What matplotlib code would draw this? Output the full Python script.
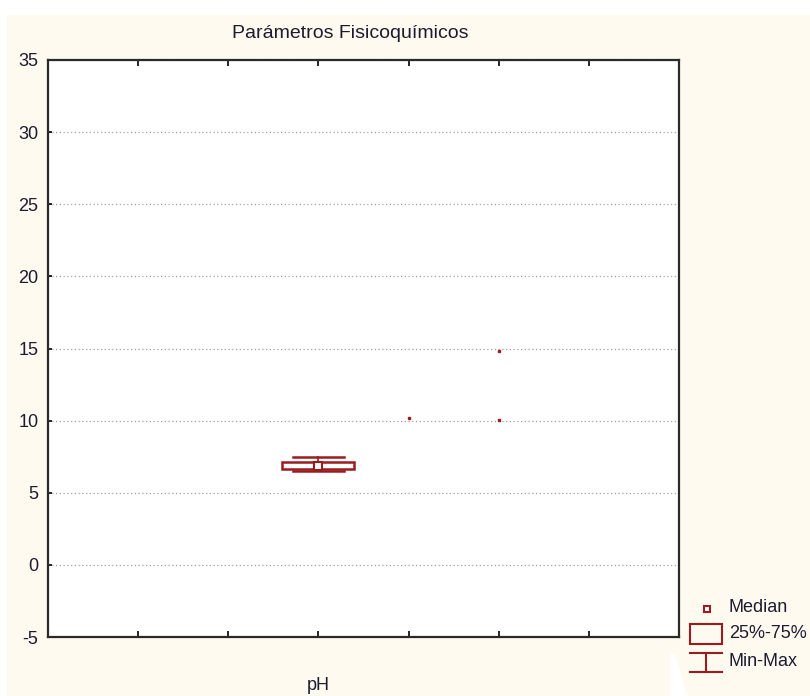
import matplotlib.pyplot as plt
from matplotlib.patches import Rectangle, Polygon
from matplotlib.lines import Line2D

plt.rcParams['font.family'] = ['Liberation Sans Narrow', 'Liberation Sans', 'DejaVu Sans']
plt.rcParams['axes.unicode_minus'] = False

TITLE = "Parámetros Fisicoquímicos"

# columnas del gráfico (solo la tercera lleva rótulo)
POSITIONS = [1, 2, 3, 4, 5, 6]
XLABELS = ["", "", "pH", "", "", ""]
YTICKS = [-5, 0, 5, 10, 15, 20, 25, 30, 35]

# pH: mínimo, cuartiles, mediana, máximo
PH_POS = 3
PH_MIN = 6.5
PH_Q1 = 6.63
PH_MED = 6.85
PH_Q3 = 7.15
PH_MAX = 7.48

# lecturas sueltas en las otras columnas
DOT_X = [4, 5, 5]
DOT_Y = [10.15, 14.85, 10.05]

RED = "#9b1c1f"
TXT = "#1c1c30"
BG = "#fffaf0"

W, H = 810, 696
fig = plt.figure(figsize=(W / 100, H / 100), dpi=100)
fig.patch.set_facecolor("white")

# fondo y leyenda en coordenadas de píxel
bg = fig.add_axes([0, 0, 1, 1], zorder=-1)
bg.set_xlim(0, W)
bg.set_ylim(H, 0)
bg.axis("off")
bg.add_patch(Rectangle((7, 15), W - 7, H - 15, facecolor=BG, edgecolor="none"))
bg.add_patch(Polygon([(670, 653), (675, 653), (687, H), (670, H)], closed=True,
                     facecolor="white", edgecolor="none"))

ax = fig.add_axes([48 / W, 1 - 637 / H, (679 - 48) / W, (637 - 60) / H])
ax.set_facecolor("white")

stats = [dict(whislo=PH_MIN, q1=PH_Q1, med=PH_MED, q3=PH_Q3, whishi=PH_MAX, fliers=[])]
ax.bxp(stats, positions=[PH_POS], widths=0.8, capwidths=0.56, patch_artist=True,
       boxprops=dict(facecolor="white", edgecolor=RED, linewidth=1.8),
       whiskerprops=dict(color=RED, linewidth=1.2),
       capprops=dict(color=RED, linewidth=1.8),
       medianprops=dict(linewidth=0), manage_ticks=False, zorder=3)
ax.plot([PH_POS], [PH_MED], marker="s", ms=6, mfc="white", mec=RED, mew=1.5,
        ls="none", zorder=4)
ax.plot(DOT_X, DOT_Y, marker="s", ms=1.6, color=RED, ls="none", zorder=4)

ax.set_xlim(0, 7)
ax.set_ylim(-5, 35)
ax.set_xticks(POSITIONS)
ax.set_xticklabels(XLABELS)
ax.set_yticks(YTICKS)
ax.yaxis.grid(True, linestyle=(0, (1, 2)), color="#a0a0a0", linewidth=0.9)
ax.set_axisbelow(True)

ax.tick_params(axis="x", direction="in", length=4, width=1.2, top=True,
               pad=29, labelsize=13, labelcolor=TXT)
ax.tick_params(axis="y", direction="in", length=3, width=1.2, pad=7,
               labelsize=13, labelcolor=TXT)
for s in ax.spines.values():
    s.set_linewidth(1.6)
    s.set_color("#2a2a2a")

fig.text(350 / W, 1 - 33 / H, TITLE, ha="center", va="center", fontsize=14, color=TXT)

# leyenda
bg.add_patch(Rectangle((704, 606), 6, 6, facecolor="white", edgecolor=RED, lw=1.5))
bg.add_patch(Rectangle((690, 624), 32, 20, facecolor="none", edgecolor=RED, lw=1.5))
bg.add_line(Line2D([690, 722], [653, 653], color=RED, lw=1.5))
bg.add_line(Line2D([690, 722], [672, 672], color=RED, lw=1.5))
bg.add_line(Line2D([706, 706], [653, 672], color=RED, lw=1.5))
for label, y in [("Median", 607), ("25%-75%", 634), ("Min-Max", 662)]:
    bg.text(729, y, label, ha="left", va="center", fontsize=13, color=TXT)

fig.savefig("out.png", dpi=100, facecolor=fig.get_facecolor())
